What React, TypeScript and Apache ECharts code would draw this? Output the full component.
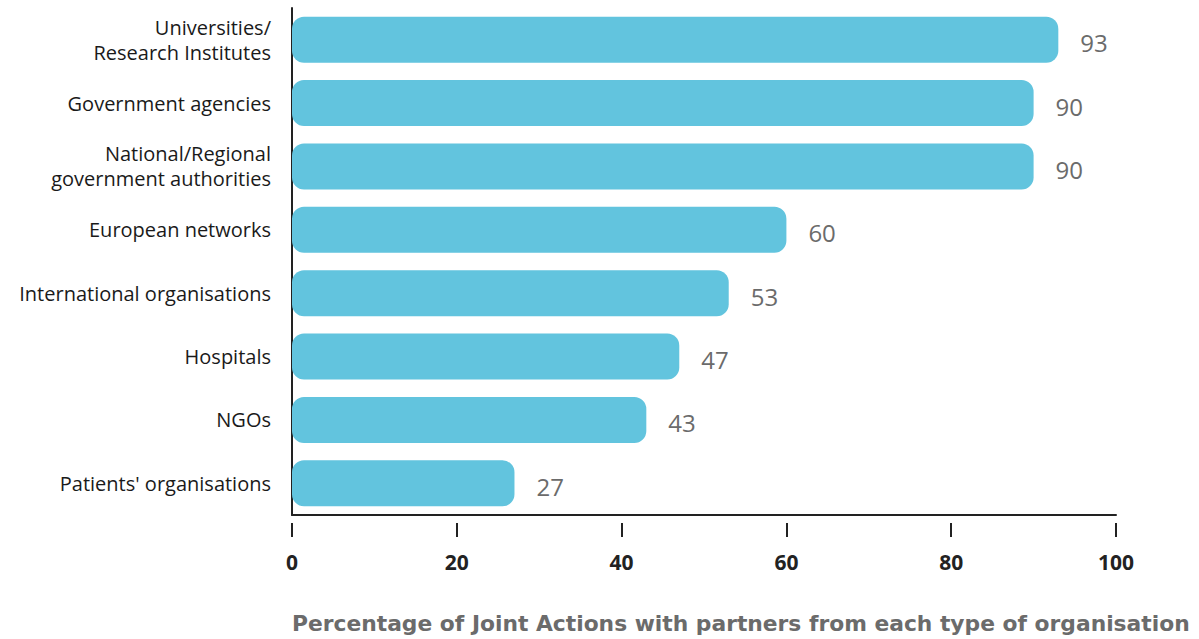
import React, { useEffect, useRef } from "react";
import * as echarts from "echarts";

const categories = [
  "Universities/\nResearch Institutes",
  "Government agencies",
  "National/Regional\ngovernment authorities",
  "European networks",
  "International organisations",
  "Hospitals",
  "NGOs",
  "Patients' organisations",
];
const values = [93, 90, 90, 60, 53, 47, 43, 27];
const xTicks = [0, 20, 40, 60, 80, 100];
const axisTitle = "Percentage of Joint Actions with partners from each type of organisation";

export default function App() {
  const ref = useRef<HTMLDivElement>(null);
  useEffect(() => {
    if (!ref.current) return;
    const chart = echarts.init(ref.current, null, { renderer: "svg" });
    const font = "'Open Sans', 'Noto Sans', sans-serif";
    chart.setOption({
      animation: false,
      grid: { left: 292, right: 83, top: 8, bottom: 124, containLabel: false },
      title: {
        text: axisTitle,
        left: 292,
        top: 612,
        padding: 0,
        textStyle: { fontFamily: "'DejaVu Sans', sans-serif", fontSize: 21.8, fontWeight: "bold", color: "#6b6b6b" },
      },
      xAxis: [
        {
          type: "value",
          min: xTicks[0],
          max: xTicks[xTicks.length - 1],
          interval: 20,
          axisLine: { show: true, lineStyle: { color: "#222", width: 2 } },
          axisTick: { show: false },
          axisLabel: { show: false },
          splitLine: { show: false },
        },
        {
          type: "value",
          position: "bottom",
          offset: 8,
          min: xTicks[0],
          max: xTicks[xTicks.length - 1],
          interval: 20,
          axisLine: { show: false },
          axisTick: { show: true, length: 14, lineStyle: { color: "#222", width: 2 } },
          axisLabel: {
            show: true,
            margin: 28,
            fontFamily: font,
            fontSize: 21,
            fontWeight: "bold",
            color: "#222",
          },
          splitLine: { show: false },
        },
      ],
      yAxis: {
        type: "category",
        inverse: true,
        data: categories,
        axisLine: { show: true, lineStyle: { color: "#222", width: 2 } },
        axisTick: { show: false },
        axisLabel: {
          margin: 21,
          fontFamily: font,
          fontSize: 20,
          lineHeight: 25,
          color: "#1a1a1a",
          align: "right",
        },
      },
      series: [
        {
          type: "bar",
          xAxisIndex: 0,
          data: values,
          barWidth: 46,
          itemStyle: { color: "#62C4DE", borderRadius: 12 },
          label: {
            show: true,
            position: "right",
            distance: 22,
            offset: [0, 3],
            fontFamily: font,
            fontSize: 24,
            color: "#6b6b6b",
          },
        },
      ],
    });
    return () => chart.dispose();
  }, []);
  return (
    <div
      ref={ref}
      style={{ position: "fixed", left: 0, top: 0, width: 1199, height: 639, background: "#fff" }}
    />
  );
}
